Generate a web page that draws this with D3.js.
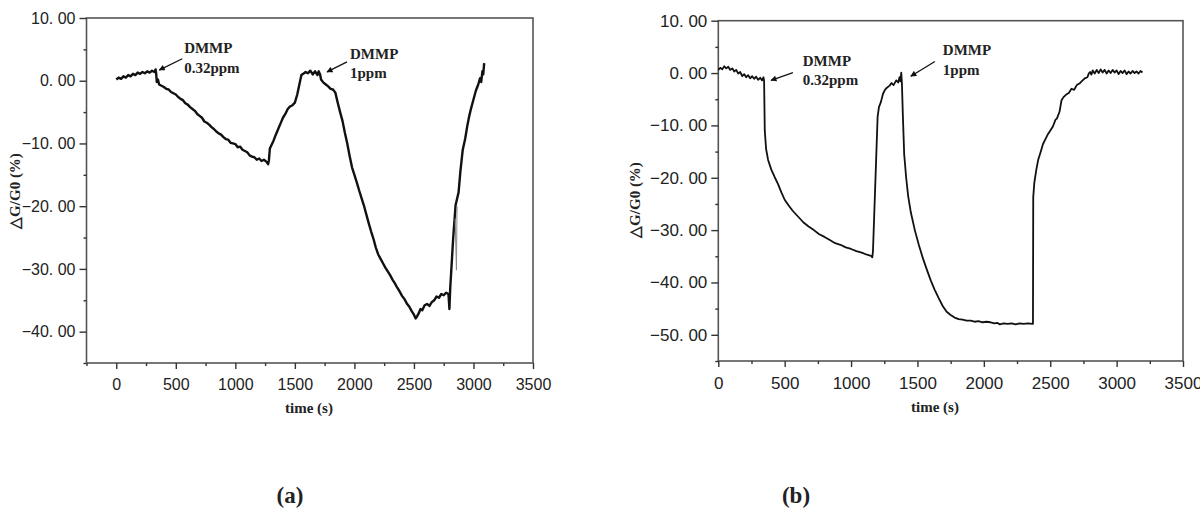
<!DOCTYPE html>
<html>
<head>
<meta charset="utf-8">
<script src="https://cdn.jsdelivr.net/npm/d3@7"></script>
<style>
  body { margin: 0; background: #fff; }
  .tick text { font-family: "Liberation Sans", Arial, sans-serif; fill: #222; }
  .lbl { font-family: "Liberation Serif", "Times New Roman", serif; font-weight: bold; fill: #222; }
</style>
</head>
<body>
<div id="chart"></div>
<script>
// (a) response at 0.32ppm then 1ppm DMMP : [time (s), dG/G0 (%)]
const seriesA = [
  [0,0.2],[20,0.5],[40,0.3],[60,0.7],[80,0.5],[100,0.9],[120,0.7],[140,1.1],[160,0.9],[180,1.3],
  [200,1.1],[220,1.4],[240,1.2],[260,1.5],[280,1.3],[300,1.6],[320,1.4],[330,1.8],[335,1.2],[340,-0.2],
  [350,0.2],[360,-0.6],[380,-0.8],[400,-1.0],[420,-1.3],[440,-1.4],[460,-1.8],[480,-2.0],[500,-2.2],[520,-2.6],
  [540,-2.9],[560,-3.1],[580,-3.6],[600,-3.8],[620,-4.2],[640,-4.5],[660,-4.8],[680,-5.3],[700,-5.6],[720,-5.9],
  [740,-6.5],[760,-6.7],[780,-7.0],[800,-7.4],[820,-7.7],[840,-8.1],[860,-8.4],[880,-8.6],[900,-9.0],[920,-9.3],
  [940,-9.4],[960,-9.9],[980,-10.0],[1000,-10.1],[1020,-10.6],[1040,-10.5],[1060,-11.0],[1080,-11.2],[1100,-11.4],[1120,-11.9],
  [1140,-12.1],[1160,-12.2],[1180,-12.6],[1200,-12.4],[1220,-12.8],[1240,-12.6],[1260,-12.9],[1275,-13.3],[1282,-12.7],[1290,-10.8],
  [1300,-10.4],[1320,-9.6],[1340,-8.6],[1360,-7.7],[1380,-6.8],[1400,-5.9],[1420,-5.3],[1440,-4.5],[1460,-4.1],[1480,-3.9],
  [1500,-3.5],[1520,-2.2],[1540,-0.4],[1555,0.9],[1570,1.1],[1590,1.4],[1610,1.2],[1630,1.6],[1650,1.0],[1670,1.5],
  [1690,0.9],[1700,1.5],[1712,1.0],[1720,0.2],[1740,-0.3],[1760,-0.6],[1780,-0.9],[1800,-1.3],[1820,-1.4],[1840,-1.9],
  [1860,-3.5],[1880,-5.0],[1900,-6.4],[1920,-8.3],[1940,-10.0],[1960,-12.0],[1980,-13.8],[2000,-15.0],[2020,-16.2],[2040,-17.5],
  [2060,-18.7],[2080,-19.9],[2100,-21.3],[2120,-22.7],[2140,-24.0],[2160,-25.2],[2180,-26.6],[2200,-27.7],[2220,-28.4],[2240,-29.1],
  [2260,-29.8],[2280,-30.4],[2300,-31.0],[2320,-31.7],[2340,-32.3],[2360,-33.0],[2380,-33.6],[2400,-34.3],[2420,-34.8],[2440,-35.5],
  [2460,-36.0],[2480,-36.7],[2500,-37.3],[2515,-37.9],[2525,-37.6],[2540,-37.1],[2555,-36.4],[2570,-36.6],[2590,-35.8],[2610,-35.6],
  [2630,-35.9],[2650,-35.3],[2670,-35.0],[2690,-34.4],[2710,-34.6],[2730,-34.0],[2750,-34.2],[2770,-33.8],[2790,-34.0],[2798,-36.4],
  [2805,-33.0],[2830,-25.0],[2850,-19.8],[2860,-19.0],[2875,-17.8],[2890,-14.5],[2910,-11.0],[2930,-9.3],[2950,-7.0],[2965,-5.6],
  [2980,-4.4],[3000,-3.0],[3020,-1.6],[3040,-0.6],[3055,0.4],[3065,-0.2],[3075,1.5],[3082,1.0],[3090,2.8]
];
// thin grey glitch near 2860 s in (a)
const spikeA = [[2846,-22.0],[2857,-30.2],[2862,-20.0]];

// (b)
const seriesB = [
  [0,0.6],[15,1.0],[30,0.7],[45,1.3],[60,0.9],[75,1.2],[90,0.6],[105,0.9],[120,0.3],[135,0.6],
  [150,-0.1],[165,0.2],[180,-0.6],[195,-0.2],[210,-0.8],[225,-0.4],[240,-1.0],[255,-0.6],[270,-1.1],[285,-0.7],
  [300,-1.3],[315,-0.9],[330,-1.4],[340,-0.8],[345,-1.5],[350,-11.0],[360,-14.5],[375,-16.6],[400,-18.5],[425,-19.9],
  [450,-21.2],[475,-22.8],[500,-24.2],[530,-25.3],[560,-26.3],[600,-27.4],[640,-28.5],[680,-29.3],[720,-30.0],[760,-30.8],
  [800,-31.3],[840,-31.9],[880,-32.5],[920,-32.8],[960,-33.3],[1000,-33.6],[1040,-34.0],[1080,-34.3],[1120,-34.7],[1150,-34.9],
  [1160,-35.2],[1165,-34.0],[1200,-8.3],[1210,-6.5],[1225,-5.5],[1240,-4.0],[1255,-3.2],[1270,-2.8],[1290,-2.4],[1305,-1.9],
  [1320,-2.3],[1340,-1.4],[1355,-1.8],[1365,-0.8],[1372,-1.6],[1378,0.1],[1383,-2.0],[1390,-8.0],[1400,-15.5],[1415,-20.0],
  [1430,-23.5],[1450,-26.6],[1480,-30.0],[1510,-32.8],[1540,-35.3],[1570,-37.5],[1600,-39.6],[1630,-41.4],[1660,-43.0],[1690,-44.5],
  [1720,-45.6],[1750,-46.2],[1780,-46.7],[1810,-47.0],[1840,-47.1],[1870,-47.3],[1900,-47.3],[1930,-47.5],[1960,-47.4],[1990,-47.6],
  [2020,-47.5],[2050,-47.6],[2080,-47.8],[2100,-47.7],[2120,-48.0],[2150,-47.8],[2180,-47.9],[2210,-47.8],[2240,-48.0],[2270,-47.8],
  [2300,-47.9],[2330,-47.8],[2370,-47.9],[2372,-23.7],[2380,-21.0],[2395,-18.5],[2410,-16.5],[2425,-15.3],[2445,-13.6],[2460,-12.8],
  [2480,-11.8],[2500,-11.0],[2520,-10.2],[2540,-8.9],[2550,-8.7],[2570,-7.4],[2585,-5.2],[2600,-4.6],[2620,-4.1],[2640,-3.8],
  [2660,-3.0],[2680,-3.2],[2700,-2.3],[2720,-2.0],[2740,-1.5],[2760,-1.0],[2780,-0.8],[2790,-0.1],[2800,0.2],[2810,-0.3],
  [2820,0.5],[2835,-0.1],[2850,0.6],[2865,0.0],[2880,0.7],[2895,0.1],[2910,0.6],[2925,-0.1],[2940,0.5],[2955,0.0],
  [2970,0.6],[2985,0.1],[3000,0.5],[3015,-0.2],[3030,0.4],[3045,0.0],[3060,0.5],[3075,-0.2],[3090,0.3],[3105,-0.1],
  [3120,0.4],[3135,0.0],[3150,0.3],[3165,-0.1],[3180,0.4],[3195,0.1]
];

const xTicks = [0, 500, 1000, 1500, 2000, 2500, 3000, 3500];
const xMinorA = [-250, 250, 750, 1250, 1750, 2250, 2750, 3250];
const xMinorB = [250, 750, 1250, 1750, 2250, 2750, 3250];
const yTicksA = [-40, -30, -20, -10, 0, 10];
const yMinorA = [-45, -35, -25, -15, -5, 5];
const yTicksB = [-50, -40, -30, -20, -10, 0, 10];
const yMinorB = [-55, -45, -35, -25, -15, -5, 5];

// annotations in data units: arrow tip, arrow tail, text anchor, two text lines
const notesA = [
  {tip: [361, 1.7], tail: [554, 3.5], at: [570, 4.4, 1.2], lines: ["DMMP", "0.32ppm"]},
  {tip: [1770, 1.4], tail: [1938, 3.0], at: [1963, 3.5, 0.4], lines: ["DMMP", "1ppm"]}
];
const notesB = [
  {tip: [397, -1.4], tail: [562, 0.1], at: [636, 1.3, -2.2], lines: ["DMMP", "0.32ppm"]},
  {tip: [1450, -0.6], tail: [1631, 2.2], at: [1691, 3.4, -0.4], lines: ["DMMP", "1ppm"]}
];

const svg = d3.select("#chart").append("svg")
  .attr("width", 1200).attr("height", 519);

svg.append("defs").append("marker")
  .attr("id", "arr").attr("viewBox", "0 0 10 10")
  .attr("refX", 9).attr("refY", 5)
  .attr("markerWidth", 7).attr("markerHeight", 6)
  .attr("markerUnits", "userSpaceOnUse")
  .attr("orient", "auto")
  .append("path").attr("d", "M0,0 L10,5 L0,10 Z").attr("fill", "#111");

const fmt = d => (d < 0 ? "\u2212" : "") + Math.abs(d).toFixed(2).replace(".", ". ");

function panel(cfg) {
  const x = d3.scaleLinear().domain(cfg.xDom).range(cfg.xRange);
  const y = d3.scaleLinear().domain(cfg.yDom).range(cfg.yRange);
  const g = svg.append("g");
  const left = cfg.xRange[0], right = cfg.xRange[1];
  const top = cfg.yRange[1], bottom = cfg.yRange[0];

  // frame
  g.append("rect")
    .attr("x", left).attr("y", top)
    .attr("width", right - left).attr("height", bottom - top)
    .attr("fill", "none").attr("stroke", "#555").attr("stroke-width", 1.6);

  // x axis
  g.append("g").attr("transform", "translate(0," + bottom + ")")
    .call(d3.axisBottom(x).tickValues(xTicks).tickSize(6).tickPadding(10).tickFormat(d3.format("d")))
    .call(a => a.select(".domain").remove())
    .call(a => a.selectAll("line").attr("stroke", "#333").attr("stroke-width", 1.4))
    .call(a => a.selectAll("text").style("font-size", cfg.fs + "px"));
  g.append("g").attr("transform", "translate(0," + bottom + ")")
    .call(d3.axisBottom(x).tickValues(cfg.xMinor).tickSize(3).tickFormat(""))
    .call(a => a.select(".domain").remove())
    .call(a => a.selectAll("line").attr("stroke", "#333").attr("stroke-width", 1.4));

  // y axis
  g.append("g").attr("transform", "translate(" + left + ",0)")
    .call(d3.axisLeft(y).tickValues(cfg.yTicks).tickSize(7).tickPadding(4).tickFormat(fmt))
    .call(a => a.select(".domain").remove())
    .call(a => a.selectAll("line").attr("stroke", "#333").attr("stroke-width", 1.4))
    .call(a => a.selectAll("text").style("font-size", cfg.fs + "px"));
  g.append("g").attr("transform", "translate(" + left + ",0)")
    .call(d3.axisLeft(y).tickValues(cfg.yMinor).tickSize(3).tickFormat(""))
    .call(a => a.select(".domain").remove())
    .call(a => a.selectAll("line").attr("stroke", "#333").attr("stroke-width", 1.4));

  // data
  const line = d3.line().x(d => x(d[0])).y(d => y(d[1]));
  g.append("path").datum(cfg.data)
    .attr("d", line).attr("fill", "none")
    .attr("stroke", "#111").attr("stroke-width", cfg.lw).attr("stroke-linejoin", "round");
  if (cfg.spike) {
    g.append("path").datum(cfg.spike)
      .attr("d", line).attr("fill", "none")
      .attr("stroke", "#888").attr("stroke-width", 1);
  }

  // annotations
  cfg.notes.forEach(n => {
    g.append("line")
      .attr("x1", x(n.tail[0])).attr("y1", y(n.tail[1]))
      .attr("x2", x(n.tip[0])).attr("y2", y(n.tip[1]))
      .attr("stroke", "#111").attr("stroke-width", 1.3)
      .attr("marker-end", "url(#arr)");
    n.lines.forEach((t, i) => {
      g.append("text").attr("class", "lbl")
        .attr("x", x(n.at[0])).attr("y", y(n.at[1 + i]))
        .style("font-size", "15px").text(t);
    });
  });

  // axis titles
  g.append("text").attr("class", "lbl")
    .attr("x", cfg.xTitle[0]).attr("y", cfg.xTitle[1])
    .attr("text-anchor", "middle").style("font-size", "15px")
    .text("time (s)");
  g.append("text").attr("class", "lbl")
    .attr("transform", "translate(" + cfg.yTitle[0] + "," + cfg.yTitle[1] + ") rotate(-90)")
    .attr("text-anchor", "middle").style("font-size", "15px")
    .text("\u25B3G/G0 (%)");

  // panel letter
  g.append("text").attr("class", "lbl")
    .attr("x", cfg.letter[0]).attr("y", cfg.letter[1])
    .attr("text-anchor", "middle").style("font-size", "23px")
    .text(cfg.name);
}

panel({
  name: "(a)", data: seriesA, spike: spikeA, notes: notesA, lw: 2.4,
  xDom: [-250, 3500], xRange: [86.5, 533],
  yDom: [-45, 10], yRange: [363, 18],
  xMinor: xMinorA, yTicks: yTicksA, yMinor: yMinorA, fs: 16,
  xTitle: [309, 413], yTitle: [20, 191], letter: [290, 503]
});
panel({
  name: "(b)", data: seriesB, notes: notesB, lw: 1.8,
  xDom: [0, 3500], xRange: [718.3, 1183],
  yDom: [-55, 10], yRange: [361, 20.7],
  xMinor: xMinorB, yTicks: yTicksB, yMinor: yMinorB, fs: 17,
  xTitle: [935, 412], yTitle: [640, 200], letter: [796, 503]
});
</script>
</body>
</html>
